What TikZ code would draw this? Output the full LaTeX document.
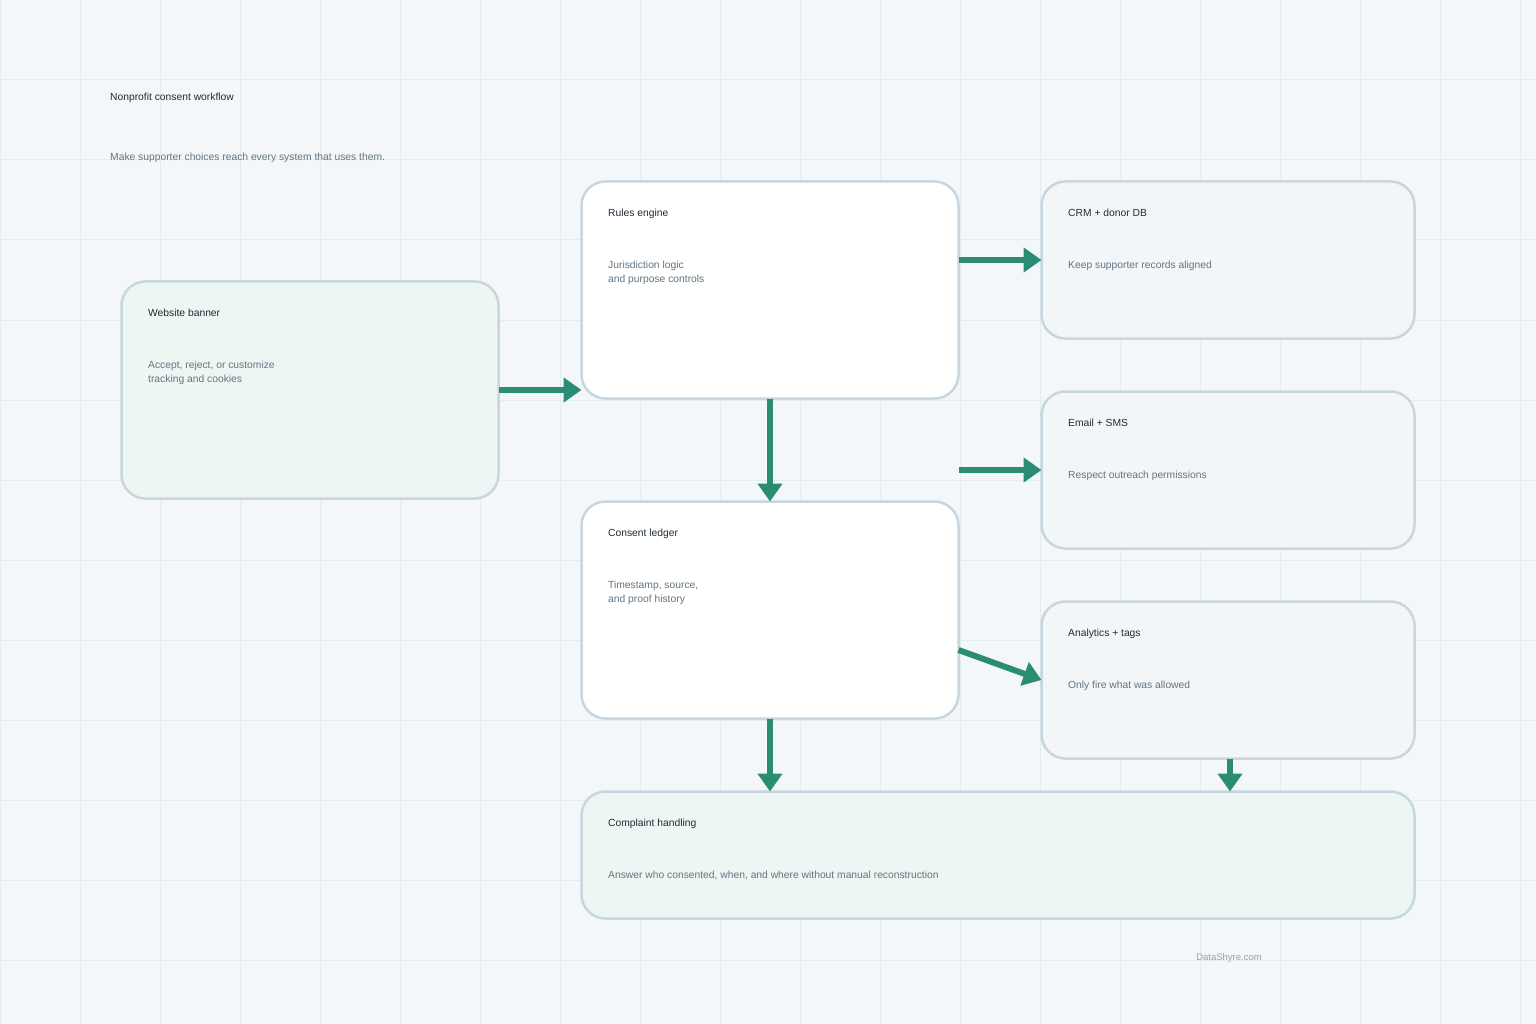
\documentclass[tikz,border=0pt]{standalone}
\usepackage{fontspec}
\setmainfont{Liberation Sans}
\usetikzlibrary{arrows.meta}
\definecolor{bg}{HTML}{F3F7FA}
\definecolor{gridc}{HTML}{E5ECF1}
\definecolor{edge}{HTML}{C8D7DF}
\definecolor{mint}{HTML}{EDF6F3}
\definecolor{panel}{HTML}{F2F6F9}
\definecolor{flow}{HTML}{2A8C72}
\definecolor{ink}{HTML}{1E2B37}
\definecolor{muted}{HTML}{617582}
\definecolor{faint}{HTML}{8DA2AE}
\newcommand{\txt}{\fontsize{10.3}{14}\selectfont}
\tikzset{
  card/.style={draw=edge, line width=2.5pt, rounded corners=24pt, anchor=north west, inner sep=0pt, outer sep=0pt},
  cardtitle/.style={anchor=mid west, text=ink, font=\txt, inner sep=0pt},
  carddesc/.style={anchor=north west, text=muted, font=\txt, align=left, inner sep=0pt},
  flowarrow/.style={draw=flow, line width=6pt, -{Triangle[length=18pt,width=24pt]}}
}
\begin{document}
\begin{tikzpicture}[x=1pt, y=-1pt]
  % canvas and background grid
  \fill[bg] (0,0) rectangle (1536,1024);
  \useasboundingbox (0,0) rectangle (1536,1024);
  \foreach \gx in {0,80,...,1520} \draw[gridc, line width=1pt] (\gx,0) -- (\gx,1024);
  \foreach \gy in {0,80,...,1000} \draw[gridc, line width=1pt] (0,\gy) -- (1536,\gy);

  % heading
  \node[cardtitle] (title) at (110,98) {Nonprofit consent workflow};
  \node[cardtitle, text=muted] (subtitle) at (110,158) {Make supporter choices reach every system that uses them.};

  % cards
  \node[card, fill=mint, minimum width=377pt, minimum height=217pt] (banner) at (121.5,281.5) {};
  \node[card, fill=white, minimum width=377pt, minimum height=217pt] (rules) at (581.5,181.5) {};
  \node[card, fill=panel, minimum width=373pt, minimum height=157pt] (crm) at (1041.5,181.5) {};
  \node[card, fill=panel, minimum width=373pt, minimum height=157pt] (email) at (1041.5,391.5) {};
  \node[card, fill=panel, minimum width=373pt, minimum height=157pt] (analytics) at (1041.5,601.5) {};
  \node[card, fill=white, minimum width=377pt, minimum height=217pt] (ledger) at (581.5,501.5) {};
  \node[card, fill=mint, minimum width=833pt, minimum height=127pt] (complaint) at (581.5,791.5) {};

  % card texts
  \node[cardtitle] (bannerT) at (148,314) {Website banner};
  \node[carddesc] (bannerD) at (148,361) {Accept, reject, or customize\\tracking and cookies};
  \node[cardtitle] (rulesT) at (608,214) {Rules engine};
  \node[carddesc] (rulesD) at (608,261) {Jurisdiction logic\\and purpose controls};
  \node[cardtitle] (crmT) at (1068,214) {CRM + donor DB};
  \node[carddesc] (crmD) at (1068,261) {Keep supporter records aligned};
  \node[cardtitle] (emailT) at (1068,424) {Email + SMS};
  \node[carddesc] (emailD) at (1068,471) {Respect outreach permissions};
  \node[cardtitle] (analyticsT) at (1068,634) {Analytics + tags};
  \node[carddesc] (analyticsD) at (1068,681) {Only fire what was allowed};
  \node[cardtitle] (ledgerT) at (608,534) {Consent ledger};
  \node[carddesc] (ledgerD) at (608,581) {Timestamp, source,\\and proof history};
  \node[cardtitle] (complaintT) at (608,824) {Complaint handling};
  \node[carddesc] (complaintD) at (608,871) {Answer who consented, when, and where without manual reconstruction};

  % flows
  \draw[flowarrow] (banner.east) -- (banner.east -| rules.west);
  \draw[flowarrow] (rules.east |- crm.west) -- (crm.west);
  \draw[flowarrow] (rules.east |- email.west) -- (email.west);
  \coordinate (ledgerOut) at ([yshift=-40pt]ledger.east);
  \draw[flowarrow] (ledgerOut) -- (analytics.west);
  \draw[flowarrow] (rules.south) -- (ledger.north);
  \draw[flowarrow] (ledger.south) -- (ledger.south |- complaint.north);
  \draw[flowarrow] ([xshift=2pt]analytics.south) -- ([xshift=2pt]analytics.south |- complaint.north);

  % footer
  \node[text=faint, font=\fontsize{9.5}{12}\selectfont, inner sep=0pt] (footer) at (1229,958) {DataShyre.com};
\end{tikzpicture}
\end{document}
